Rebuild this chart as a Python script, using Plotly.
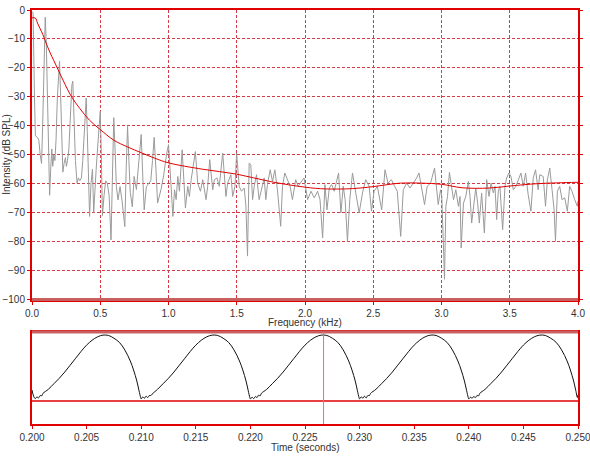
import plotly.graph_objects as go

# ---------------- spectrum (top panel) ----------------
spec_freq_khz = [
    0.000, 0.008, 0.018, 0.025, 0.040, 0.050, 0.060, 0.070, 0.078, 0.088, 0.097, 0.105, 0.115, 0.122,
    0.129, 0.137, 0.145, 0.152, 0.160, 0.168, 0.176, 0.186, 0.196, 0.202, 0.210, 0.218, 0.226, 0.235,
    0.245, 0.252, 0.260, 0.270, 0.280, 0.292, 0.299, 0.307, 0.318, 0.330, 0.340, 0.350, 0.362, 0.372,
    0.383, 0.397, 0.405, 0.413, 0.422, 0.432, 0.443, 0.452, 0.460, 0.470, 0.480, 0.490, 0.500, 0.508,
    0.516, 0.528, 0.540, 0.552, 0.565, 0.579, 0.588, 0.599, 0.610, 0.618, 0.630, 0.645, 0.660, 0.680,
    0.690, 0.700, 0.710, 0.720, 0.735, 0.748, 0.765, 0.785, 0.800, 0.812, 0.822, 0.838, 0.855, 0.870,
    0.883, 0.895, 0.908, 0.920, 0.945, 0.965, 0.985, 1.000,
    1.019, 1.032, 1.044, 1.056, 1.068, 1.080, 1.100, 1.117, 1.124, 1.141, 1.153, 1.166, 1.197, 1.214,
    1.234, 1.251, 1.275, 1.287, 1.302, 1.324, 1.336, 1.355, 1.372, 1.397, 1.421, 1.433, 1.457, 1.470,
    1.487, 1.499, 1.518, 1.535, 1.555, 1.567, 1.579, 1.591, 1.603, 1.616, 1.628, 1.645, 1.664, 1.684,
    1.701, 1.713, 1.725, 1.745, 1.762, 1.779, 1.798, 1.822, 1.835, 1.852, 1.871, 1.891, 1.908, 1.932,
    1.949, 1.968, 1.993,
    2.019, 2.044, 2.068, 2.092, 2.110, 2.129, 2.146, 2.161, 2.178, 2.195, 2.214, 2.226, 2.246, 2.263,
    2.280, 2.294, 2.311, 2.328, 2.348, 2.372, 2.397, 2.421, 2.445, 2.470, 2.487, 2.506, 2.530, 2.562,
    2.586, 2.608, 2.633, 2.657, 2.676, 2.701, 2.720, 2.745, 2.769, 2.793, 2.818, 2.835, 2.854, 2.876,
    2.895, 2.920, 2.949, 2.976, 2.993,
    3.002, 3.012, 3.022, 3.032, 3.044, 3.058, 3.071, 3.088, 3.105, 3.124, 3.136, 3.144, 3.161, 3.178,
    3.197, 3.209, 3.221, 3.238, 3.251, 3.265, 3.277, 3.294, 3.314, 3.331, 3.348, 3.363, 3.380, 3.392,
    3.404, 3.416, 3.428, 3.448, 3.465, 3.477, 3.494, 3.509, 3.526, 3.545, 3.562, 3.582, 3.599, 3.616,
    3.635, 3.655, 3.672, 3.689, 3.708, 3.720, 3.745, 3.762, 3.776, 3.793, 3.810, 3.825, 3.835, 3.849,
    3.866, 3.883, 3.903, 3.922, 3.939, 3.956, 3.976, 3.995, 4.000,
]
spec_db = [
    -0.5, -1.0, -30.0, -43.5, -44.0, -45.0, -50.0, -53.0, -40.0, -15.0, -2.5, -12.0, -40.0, -58.0,
    -64.0, -55.0, -48.0, -54.0, -50.0, -52.0, -45.0, -30.0, -19.0, -17.7, -30.0, -48.0, -56.0, -53.0,
    -51.0, -54.0, -52.0, -48.0, -38.0, -26.0, -24.6, -35.0, -52.0, -59.8, -58.0, -59.0, -58.0, -52.0,
    -42.0, -30.4, -42.0, -62.0, -71.3, -60.0, -55.0, -70.0, -62.0, -55.0, -48.0, -40.0, -35.0, -50.0,
    -71.0, -64.0, -59.0, -60.0, -64.0, -79.4, -55.0, -37.2, -50.0, -61.0, -65.6, -61.0, -66.0, -74.8,
    -55.0, -40.2, -52.0, -63.0, -68.0, -57.5, -62.0, -50.0, -43.0, -58.0, -69.0, -61.0, -60.0, -59.0,
    -52.0, -44.0, -55.0, -66.7, -62.0, -57.0, -50.0, -46.5,
    -60.9, -71.3, -62.1, -65.5, -57.5, -62.6, -48.3, -63.2, -68.4, -60.9, -64.4, -58.6, -48.9, -59.8,
    -62.6, -58.6, -65.5, -60.9, -51.7, -62.1, -58.6, -58.0, -60.9, -49.4, -64.4, -59.8, -56.9, -64.4,
    -60.9, -49.4, -60.9, -62.6, -61.5, -67.8, -85.0, -52.9, -53.4, -65.5, -60.9, -56.9, -65.5, -61.5,
    -58.0, -65.5, -60.3, -55.2, -59.2, -55.2, -62.1, -74.7, -60.9, -56.3, -58.6, -60.9, -65.5, -58.6,
    -60.9, -59.8, -58.0,
    -65.5, -62.6, -64.9, -62.6, -65.5, -78.7, -60.3, -69.0, -61.5, -60.3, -62.6, -59.8, -56.3, -70.1,
    -60.9, -65.5, -79.9, -65.5, -56.3, -63.2, -70.1, -63.2, -58.6, -60.9, -69.5, -62.6, -60.9, -69.0,
    -55.2, -59.8, -58.6, -60.9, -62.6, -78.2, -62.1, -59.8, -61.5, -59.8, -58.0, -56.3, -60.9, -67.2,
    -60.9, -59.8, -54.6, -67.2, -62.1,
    -64.4, -78.2, -93.0, -67.8, -64.4, -56.1, -60.9, -65.5, -62.1, -67.8, -64.4, -82.2, -66.7, -64.4,
    -59.2, -64.4, -73.6, -65.5, -61.5, -66.7, -73.6, -63.2, -77.0, -58.6, -64.4, -59.8, -63.2, -60.9,
    -72.4, -62.6, -60.9, -75.9, -60.9, -58.0, -56.3, -57.5, -62.1, -60.9, -58.6, -56.3, -60.9, -56.3,
    -63.8, -69.5, -58.0, -55.2, -62.1, -56.9, -57.5, -67.8, -58.6, -54.6, -62.1, -69.0, -79.9, -62.6,
    -60.9, -65.5, -64.9, -69.5, -60.9, -62.6, -65.5, -67.8, -66.0,
]

smooth_freq_khz = [0.000, 0.025, 0.040, 0.060, 0.080, 0.100, 0.130, 0.160, 0.190, 0.230, 0.290, 0.350,
                   0.420, 0.500, 0.600, 0.700, 0.800, 0.900, 1.000, 1.250, 1.500, 1.750, 2.000, 2.150,
                   2.350, 2.500, 2.700, 2.850, 3.000, 3.150, 3.350, 3.500, 3.700, 3.850, 4.000]
smooth_db = [-2.7, -2.8, -4.5, -6.5, -8.5, -11.0, -14.5, -17.5, -20.5, -24.5, -30.0, -34.0,
             -38.0, -41.3, -45.0, -47.3, -49.3, -51.2, -52.8, -55.0, -56.7, -59.3, -61.2, -61.8,
             -61.7, -61.0, -59.8, -59.8, -60.2, -61.4, -61.5, -60.8, -60.0, -59.7, -59.5]

freq_tickvals = [0.0, 0.5, 1.0, 1.5, 2.0, 2.5, 3.0, 3.5, 4.0]
freq_ticktext = ["0.0", "0.5", "1.0", "1.5", "2.0", "2.5", "3.0", "3.5", "4.0"]
db_tickvals = [0, -10, -20, -30, -40, -50, -60, -70, -80, -90, -100]

# ---------------- waveform (bottom panel) ----------------
wave_time_s = [
    0.20000, 0.20015, 0.20030, 0.20045, 0.20060, 0.20075, 0.20090, 0.20100, 0.20150, 0.20200, 0.20250,
    0.20300, 0.20350, 0.20400, 0.20450, 0.20500, 0.20550, 0.20600, 0.20650, 0.20700, 0.20750, 0.20800,
    0.20850, 0.20900, 0.20930, 0.20960, 0.20980, 0.20995,
    0.21000, 0.21015, 0.21030, 0.21045, 0.21060, 0.21075, 0.21090, 0.21100, 0.21150, 0.21200, 0.21250,
    0.21300, 0.21350, 0.21400, 0.21450, 0.21500, 0.21550, 0.21600, 0.21650, 0.21700, 0.21750, 0.21800,
    0.21850, 0.21900, 0.21930, 0.21960, 0.21980, 0.21995,
    0.22000, 0.22015, 0.22030, 0.22045, 0.22060, 0.22075, 0.22090, 0.22100, 0.22150, 0.22200, 0.22250,
    0.22300, 0.22350, 0.22400, 0.22450, 0.22500, 0.22550, 0.22600, 0.22650, 0.22700, 0.22750, 0.22800,
    0.22850, 0.22900, 0.22930, 0.22960, 0.22980, 0.22995,
    0.23000, 0.23015, 0.23030, 0.23045, 0.23060, 0.23075, 0.23090, 0.23100, 0.23150, 0.23200, 0.23250,
    0.23300, 0.23350, 0.23400, 0.23450, 0.23500, 0.23550, 0.23600, 0.23650, 0.23700, 0.23750, 0.23800,
    0.23850, 0.23900, 0.23930, 0.23960, 0.23980, 0.23995,
    0.24000, 0.24015, 0.24030, 0.24045, 0.24060, 0.24075, 0.24090, 0.24100, 0.24150, 0.24200, 0.24250,
    0.24300, 0.24350, 0.24400, 0.24450, 0.24500, 0.24550, 0.24600, 0.24650, 0.24700, 0.24750, 0.24800,
    0.24850, 0.24900, 0.24930, 0.24960, 0.24980, 0.24995, 0.25000,
]
wave_amp = [
    0.16, 0.07, 0.035, 0.06, 0.045, 0.08, 0.075, 0.11, 0.17, 0.25, 0.33,
    0.42, 0.52, 0.62, 0.72, 0.81, 0.88, 0.93, 0.955, 0.95, 0.91, 0.85,
    0.74, 0.58, 0.45, 0.29, 0.15, 0.05,
    0.03, 0.06, 0.04, 0.07, 0.05, 0.08, 0.08, 0.10, 0.17, 0.25, 0.33,
    0.42, 0.52, 0.62, 0.72, 0.81, 0.88, 0.93, 0.955, 0.95, 0.91, 0.85,
    0.74, 0.58, 0.45, 0.29, 0.15, 0.05,
    0.03, 0.055, 0.035, 0.065, 0.05, 0.085, 0.075, 0.11, 0.17, 0.25, 0.33,
    0.42, 0.52, 0.62, 0.72, 0.81, 0.88, 0.93, 0.955, 0.95, 0.91, 0.85,
    0.74, 0.58, 0.45, 0.29, 0.15, 0.05,
    0.03, 0.06, 0.04, 0.07, 0.045, 0.08, 0.08, 0.11, 0.17, 0.25, 0.33,
    0.42, 0.52, 0.62, 0.72, 0.81, 0.88, 0.93, 0.955, 0.95, 0.91, 0.85,
    0.74, 0.58, 0.45, 0.29, 0.15, 0.05,
    0.03, 0.055, 0.04, 0.065, 0.05, 0.08, 0.075, 0.11, 0.17, 0.25, 0.33,
    0.42, 0.52, 0.62, 0.72, 0.81, 0.88, 0.93, 0.955, 0.95, 0.91, 0.85,
    0.74, 0.58, 0.45, 0.29, 0.15, 0.05, 0.09,
]
cursor_time_s = 0.2267
time_tickvals = [0.200, 0.205, 0.210, 0.215, 0.220, 0.225, 0.230, 0.235, 0.240, 0.245, 0.250]
time_ticktext = ["0.200", "0.205", "0.210", "0.215", "0.220", "0.225", "0.230", "0.235",
                 "0.240", "0.245", "0.250"]

RED = "#e00000"
DUSKY = "#c86060"
GRID = "#d23c46"
FONT = "Liberation Sans, Arial, sans-serif"
TXT = "#333333"

fig = go.Figure()
fig.add_trace(go.Scatter(x=spec_freq_khz, y=spec_db, mode="lines",
                         line=dict(color="#9a9a9a", width=1), xaxis="x", yaxis="y",
                         showlegend=False, hoverinfo="skip"))
fig.add_trace(go.Scatter(x=smooth_freq_khz, y=smooth_db, mode="lines", line_shape="spline",
                         line=dict(color=RED, width=1), xaxis="x", yaxis="y",
                         showlegend=False, hoverinfo="skip"))
fig.add_trace(go.Scatter(x=wave_time_s, y=wave_amp, mode="lines", line_shape="spline",
                         line=dict(color="#111111", width=1), xaxis="x2", yaxis="y2",
                         showlegend=False, hoverinfo="skip"))

FIG_W, FIG_H = 590, 456
M_L, M_R, M_T, M_B = 32, 12, 10, 32
PLOT_H = FIG_H - M_T - M_B          # 414 px: page y 10 .. 424
PLOT_W = FIG_W - M_L - M_R
top_bottom = (424 - 299.5) / PLOT_H
bot_top = (424 - 332) / PLOT_H

axis_common = dict(showline=True, linecolor=RED, linewidth=2, zeroline=False, automargin=False,
                   tickfont=dict(family=FONT, size=10, color=TXT), ticks="outside",
                   ticklen=3, tickcolor=RED, tickwidth=1, ticklabeloverflow="allow")

fig.update_layout(
    width=FIG_W, height=FIG_H,
    margin=dict(l=M_L, r=M_R, t=M_T, b=M_B, autoexpand=False),
    paper_bgcolor="white", plot_bgcolor="white",
    font=dict(family=FONT, size=10, color=TXT),
    xaxis=dict(domain=[0, 1], range=[0, 4], anchor="y", tickvals=freq_tickvals,
               ticktext=freq_ticktext, showgrid=True, gridcolor=GRID, gridwidth=1,
               griddash="3px,2px", mirror=True, **axis_common),
    yaxis=dict(domain=[top_bottom, 1], range=[-100, 0], anchor="x", tickvals=db_tickvals,
               showgrid=True, gridcolor=GRID, gridwidth=1, griddash="3px,2px",
               mirror="ticks", **axis_common),
    xaxis2=dict(domain=[0, 1], range=[0.2, 0.25], anchor="y2", tickvals=time_tickvals,
                ticktext=time_ticktext, showgrid=False, mirror=True, **axis_common),
    yaxis2=dict(domain=[0, bot_top], range=[-0.333, 1.0], anchor="x2", showgrid=False,
                showticklabels=False, showline=True, linecolor=RED, linewidth=2,
                mirror=True, ticks="", zeroline=False, automargin=False),
    shapes=[
        dict(type="line", xref="x domain", yref="y domain", x0=0, x1=1, y0=0, y1=0,
             line=dict(color=DUSKY, width=3)),
        dict(type="line", xref="x2 domain", yref="y2 domain", x0=0, x1=1, y0=1, y1=1,
             line=dict(color=DUSKY, width=3)),
        dict(type="line", xref="x2 domain", yref="y2", x0=0, x1=1, y0=0, y1=0,
             line=dict(color=RED, width=1.5)),
        dict(type="line", xref="x2", yref="y2 domain", x0=cursor_time_s, x1=cursor_time_s,
             y0=0, y1=1, line=dict(color="#f07070", width=1)),
    ],
    annotations=[
        dict(text="Intensity (dB SPL)", xref="paper", yref="paper", x=-25 / PLOT_W,
             y=(top_bottom + 1) / 2, textangle=-90, showarrow=False,
             font=dict(family=FONT, size=10, color=TXT), xanchor="center", yanchor="middle"),
        dict(text="Frequency (kHz)", xref="paper", yref="paper", x=0.5,
             y=(424 - 322) / PLOT_H, showarrow=False,
             font=dict(family=FONT, size=10, color=TXT), xanchor="center", yanchor="middle"),
        dict(text="Time (seconds)", xref="paper", yref="paper", x=0.5,
             y=(424 - 447.5) / PLOT_H, showarrow=False,
             font=dict(family=FONT, size=10, color=TXT), xanchor="center", yanchor="middle"),
    ],
)

# remove the browser's default 8px body margin so the figure sits at the page origin
fig.write_html("out.html", config={"displayModeBar": False},
               post_script="document.body.style.margin='0';")
